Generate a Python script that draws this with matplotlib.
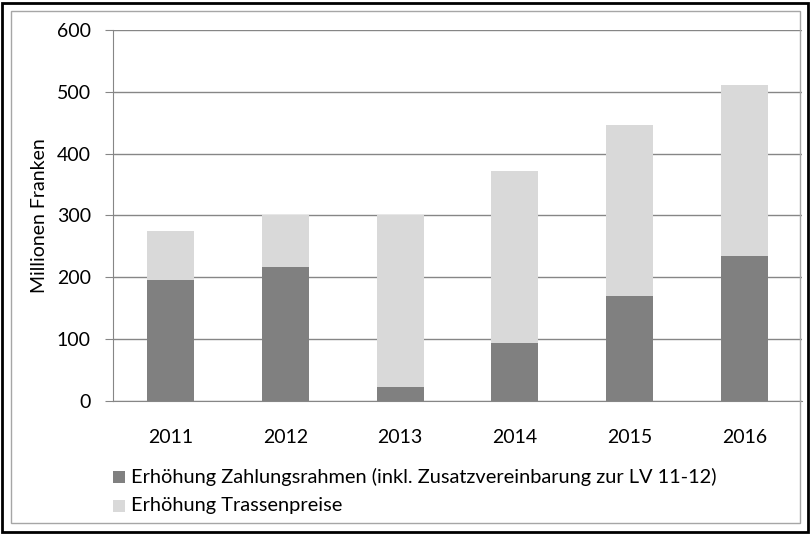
import matplotlib
matplotlib.use("Agg")
import matplotlib.pyplot as plt
from matplotlib.patches import Rectangle

years = ["2011", "2012", "2013", "2014", "2015", "2016"]
zahlungsrahmen = [195, 217, 23, 94, 170, 234]
trassenpreise = [80, 83, 277, 278, 276, 277]
series_labels = ["Erhöhung Zahlungsrahmen (inkl. Zusatzvereinbarung zur LV 11-12)",
                 "Erhöhung Trassenpreise"]
yticks = [0, 100, 200, 300, 400, 500, 600]

plt.rcParams['font.family'] = ['Lato', 'DejaVu Sans']

W, H = 811, 534
fig = plt.figure(figsize=(W/100, H/100), dpi=100)

# frames
fig.patches.append(Rectangle((2/W, 2/H), (W-5)/W, (H-5)/H, transform=fig.transFigure,
                             fill=False, edgecolor='black', linewidth=2))
fig.patches.append(Rectangle((11/W, 11/H), (W-22)/W, (H-22)/H, transform=fig.transFigure,
                             fill=False, edgecolor='#a6a6a6', linewidth=1))

ax = fig.add_axes([113/W, 1-401/H, (802-113)/W, (401-30)/H])
x = list(range(len(years)))
dark, light = '#808080', '#d9d9d9'
ax.bar(x, zahlungsrahmen, width=0.41, color=dark, zorder=3)
ax.bar(x, trassenpreise, width=0.41, bottom=zahlungsrahmen, color=light, zorder=3)

ax.set_xlim(-0.5, len(years)-0.5)
ax.set_ylim(0, 600)
ax.set_yticks(yticks)
ax.set_xticks(x)
ax.set_xticklabels(years)
ax.grid(axis='y', color='#868686', linewidth=1, zorder=0)
for s in ['top', 'right']:
    ax.spines[s].set_visible(False)
ax.spines['left'].set_color('#868686')
ax.spines['bottom'].set_color('#868686')
ax.tick_params(axis='y', length=6, color='#868686', labelsize=14, pad=10)
ax.tick_params(axis='x', length=0, labelsize=14, pad=20)
ax.set_ylabel("Millionen Franken", fontsize=14)
ax.yaxis.set_label_coords((40-113)/(802-113), 0.5)
ax.yaxis.label.set_va('center')

# legend
for i, (lab, col) in enumerate(zip(series_labels, [dark, light])):
    yc = [477, 506][i]
    fig.patches.append(Rectangle((113/W, 1-(yc+6)/H), 12/W, 12/H, transform=fig.transFigure,
                                 facecolor=col, edgecolor='none'))
    fig.text(131/W, 1-yc/H, lab, fontsize=14.4, va='center', ha='left')

fig.savefig("out.png", dpi=100)
